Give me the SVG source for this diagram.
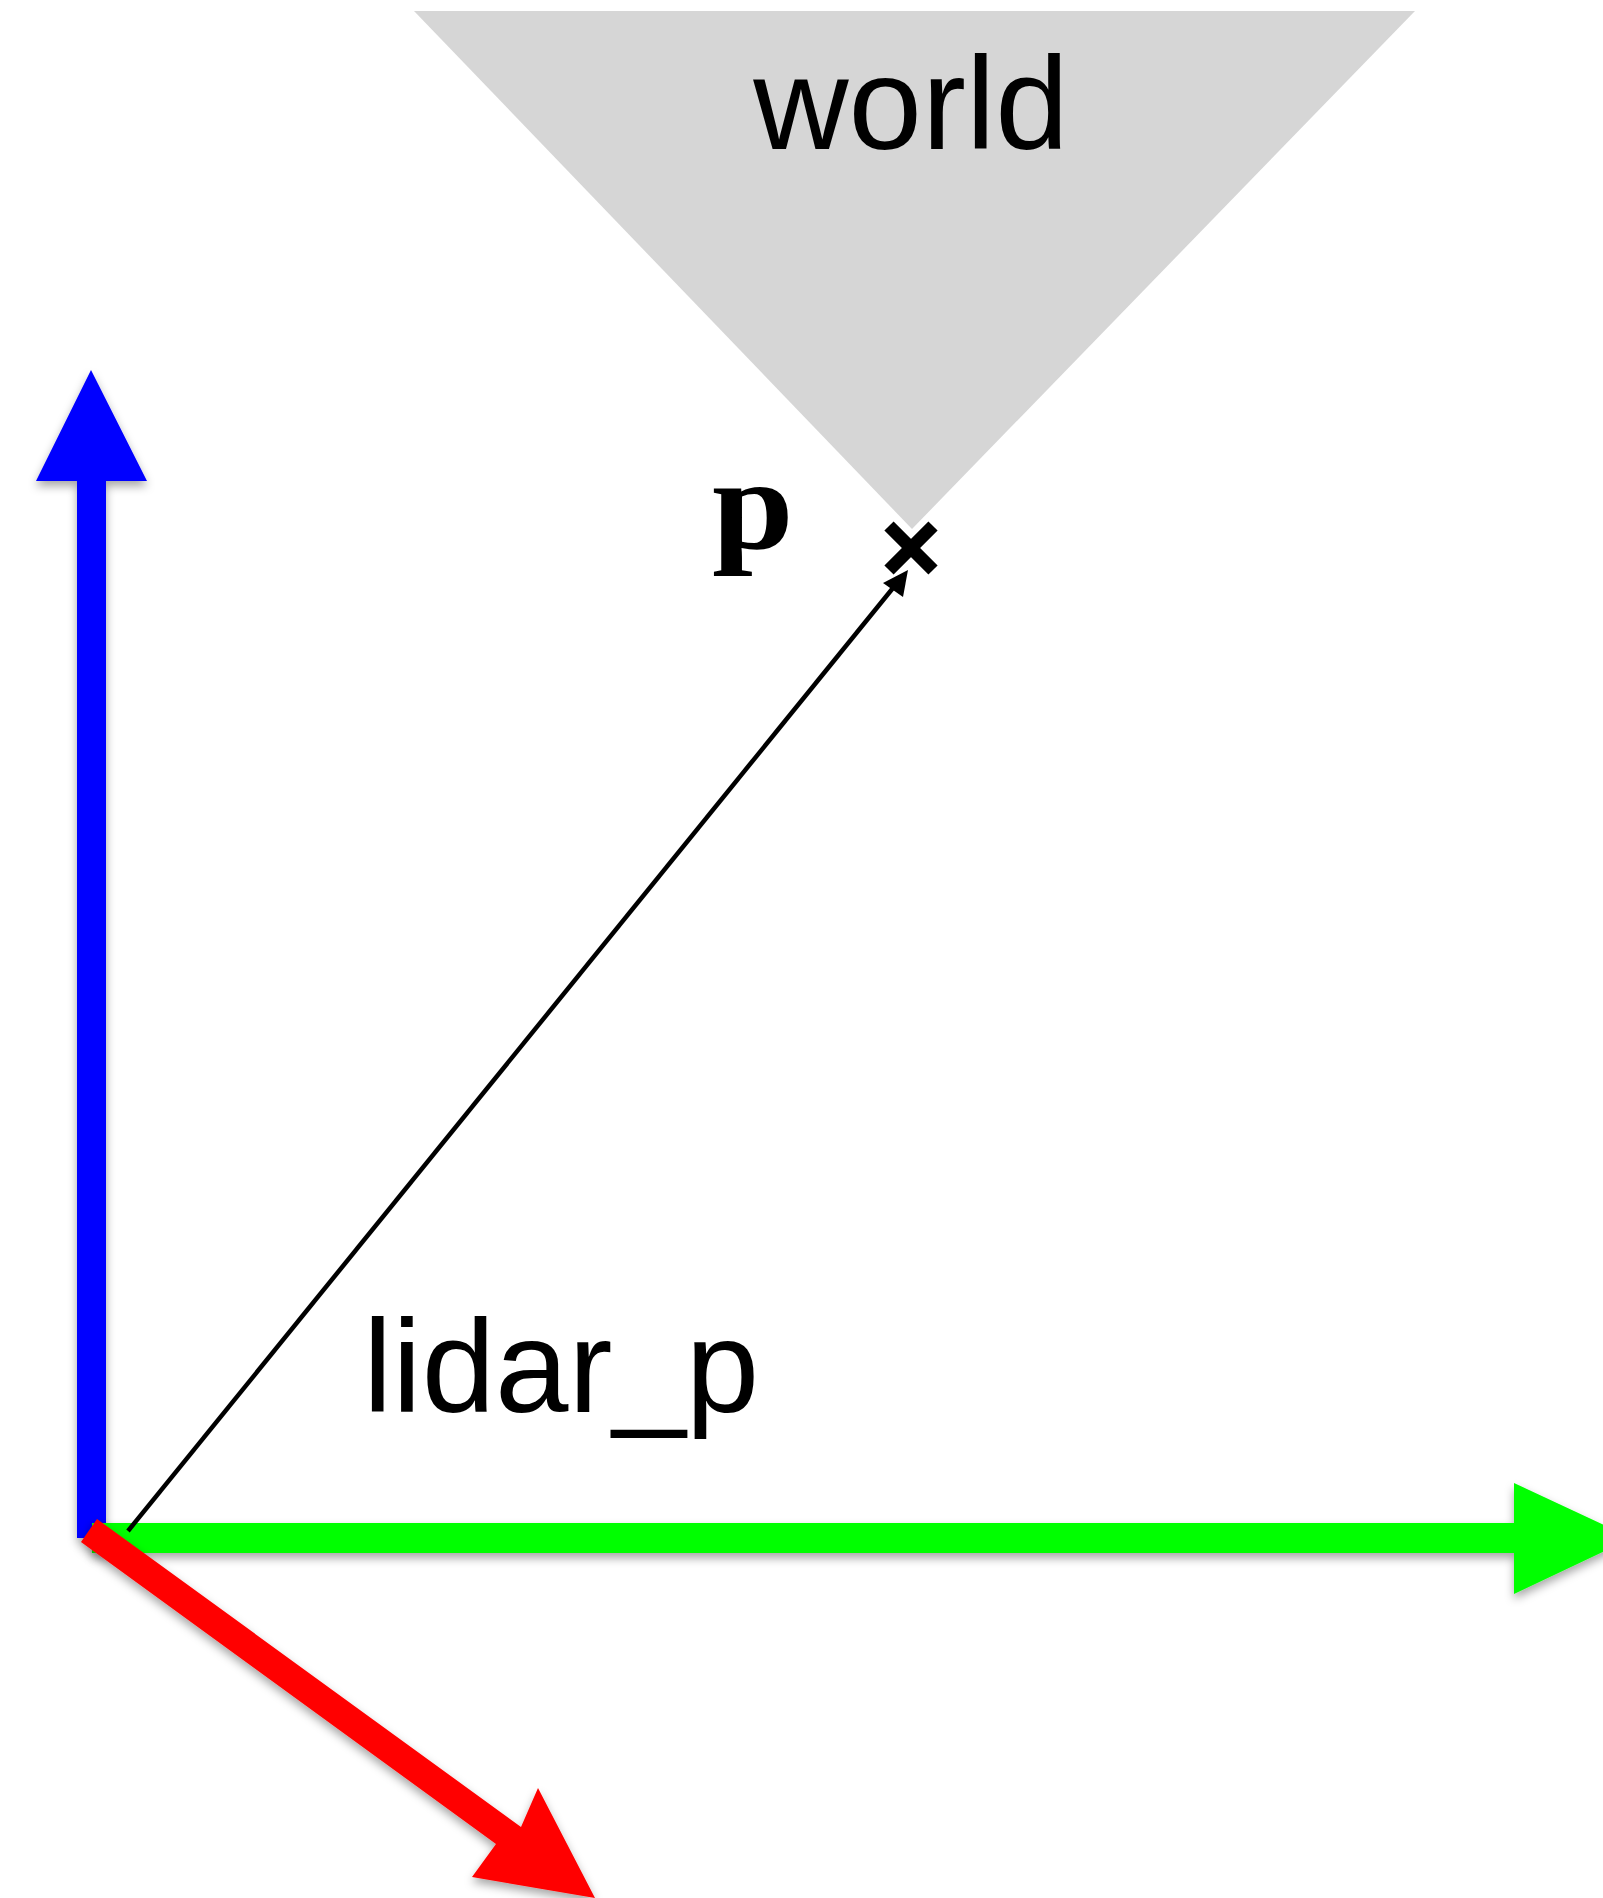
<svg xmlns="http://www.w3.org/2000/svg" width="1603" height="1898" viewBox="0 0 1603 1898">
<style>
.lbl{font-family:"Liberation Sans",Arial,sans-serif;font-size:132px;fill:#000}
.bold{font-family:"Liberation Serif","Times New Roman",serif;font-weight:bold;font-size:130px;fill:#000}
</style>
<defs>
<filter id="sh" x="-20%" y="-20%" width="140%" height="140%">
<feDropShadow dx="0" dy="5" stdDeviation="5" flood-color="#000" flood-opacity="0.35"/>
</filter>
</defs>
<rect width="1603" height="1898" fill="#fff"/>
<g id="world">
<polygon points="414,11 1415,11 912,529" fill="#d6d6d6"/>
<text class="lbl" x="911" y="149" text-anchor="middle">world</text>
</g>
<g id="axis_z" filter="url(#sh)">
<polygon points="77,1538 77,481 36,481 91,370 147,481 106,481 106,1538" fill="#0000ff"/>
</g>
<g id="axis_y" filter="url(#sh)">
<polygon points="92,1523 1514,1523 1514,1483 1632,1538 1514,1594 1514,1553 92,1553" fill="#00ff00"/>
</g>
<g id="connectors">
<line x1="128" y1="1531" x2="897" y2="583" stroke="#000" stroke-width="4.5"/>
<polygon points="908,570 883,583 903,597" fill="#000"/>
</g>
<g id="axis_x" filter="url(#sh)">
<polygon points="81,1542 97,1519 521,1827 538,1788 595,1898 472,1877 496,1844" fill="#ff0000"/>
</g>
<g id="point_p">
<line x1="889" y1="526" x2="933" y2="570" stroke="#000" stroke-width="13"/>
<line x1="933" y1="526" x2="889" y2="570" stroke="#000" stroke-width="13"/>
<text class="bold" transform="translate(712,548) scale(1.13,1)">p</text>
</g>
<g id="lidar_p_label">
<text class="lbl" x="363" y="1412">lidar_p</text>
</g>
</svg>
